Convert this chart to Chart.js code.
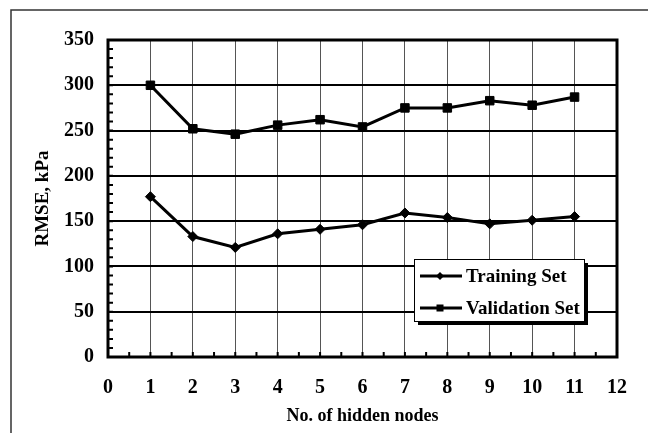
<!DOCTYPE html>
<html>
<head>
<meta charset="utf-8">
<script src="https://cdn.jsdelivr.net/npm/chart.js@4.4.0/dist/chart.umd.min.js"></script>
<style>
  html, body { margin: 0; padding: 0; background: #fff; }
  #wrap { width: 648px; height: 433px; }
</style>
</head>
<body>
<div id="wrap"><canvas id="rmseChart" width="648" height="433"></canvas></div>
<script>
// values (kPa)
const hiddenNodes = [1, 2, 3, 4, 5, 6, 7, 8, 9, 10, 11];
const trainingRmse = [177, 133, 121, 136, 141, 146, 159, 154, 147, 151, 155];
const validationRmse = [300, 252, 246, 256, 262, 254, 275, 275, 283, 278, 287];

const xMin = 0, xMax = 12, xStep = 1, xMinorStep = 0.5;
const yMin = 0, yMax = 350, yStep = 50, yMinorStep = 10;

const serif = "'Liberation Serif', 'Times New Roman', serif";

function toPoints(ys) {
    return hiddenNodes.map((n, i) => ({ x: n, y: ys[i] }));
}

// page frame (left + top edge of the original figure box)
const pageFrame = {
    id: 'pageFrame',
    beforeDraw(chart) {
        const ctx = chart.ctx;
        ctx.save();
        ctx.fillStyle = '#fff';
        ctx.fillRect(0, 0, chart.width, chart.height);
        ctx.strokeStyle = '#333';
        ctx.lineWidth = 1.5;
        ctx.beginPath();
        ctx.moveTo(11, chart.height);
        ctx.lineTo(11, 10);
        ctx.lineTo(chart.width, 10);
        ctx.stroke();
        ctx.restore();
    }
};

// thick plot border + inward minor ticks
const plotFrame = {
    id: 'plotFrame',
    afterDatasetsDraw(chart) {
        const { ctx, chartArea: a, scales: { x, y } } = chart;
        ctx.save();
        ctx.strokeStyle = '#000';
        ctx.lineWidth = 2;
        ctx.beginPath();
        for (let v = yMin + yMinorStep; v < yMax; v += yMinorStep) {
            const py = y.getPixelForValue(v);
            ctx.moveTo(a.left, py);
            ctx.lineTo(a.left + 5, py);
        }
        for (let v = xMin + xMinorStep; v < xMax; v += xMinorStep) {
            const px = x.getPixelForValue(v);
            ctx.moveTo(px, a.bottom);
            ctx.lineTo(px, a.bottom - 5);
        }
        ctx.stroke();
        ctx.lineWidth = 3;
        ctx.strokeRect(a.left, a.top, a.right - a.left, a.bottom - a.top);
        ctx.restore();
    }
};

function drawMarker(ctx, style, cx, cy, r) {
    ctx.beginPath();
    if (style === 'rectRot') {
        ctx.moveTo(cx, cy - r);
        ctx.lineTo(cx + r, cy);
        ctx.lineTo(cx, cy + r);
        ctx.lineTo(cx - r, cy);
    } else {
        ctx.rect(cx - r, cy - r, 2 * r, 2 * r);
    }
    ctx.closePath();
    ctx.fill();
}

// boxed legend with drop shadow inside the plot
const boxLegend = {
    id: 'boxLegend',
    afterDraw(chart) {
        const { ctx, chartArea: a } = chart;
        const w = 170, h = 62;
        const left = a.right - 203, top = a.top + 219;
        ctx.save();
        ctx.fillStyle = '#000';
        ctx.fillRect(left + 4, top + 4, w, h);
        ctx.fillStyle = '#fff';
        ctx.fillRect(left, top, w, h);
        ctx.strokeStyle = '#000';
        ctx.lineWidth = 1;
        ctx.strokeRect(left + 0.5, top + 0.5, w, h);

        ctx.font = 'bold 19px ' + serif;
        ctx.textBaseline = 'middle';
        ctx.textAlign = 'left';
        chart.data.datasets.forEach((ds, i) => {
            const ry = top + 17 + i * 32;
            ctx.strokeStyle = '#000';
            ctx.lineWidth = 3;
            ctx.beginPath();
            ctx.moveTo(left + 6, ry);
            ctx.lineTo(left + 48, ry);
            ctx.stroke();
            ctx.fillStyle = '#000';
            drawMarker(ctx, ds.pointStyle, left + 26, ry, ds.pointStyle === 'rect' ? 3.5 : 4);
            ctx.fillText(ds.label, left + 52, ry + 1);
        });
        ctx.restore();
    }
};

new Chart(document.getElementById('rmseChart'), {
    type: 'line',
    data: {
        datasets: [
            {
                label: 'Training Set',
                data: toPoints(trainingRmse),
                borderColor: '#000',
                backgroundColor: '#000',
                borderWidth: 3,
                pointStyle: 'rectRot',
                pointRadius: 5,
                pointBorderWidth: 1,
                tension: 0
            },
            {
                label: 'Validation Set',
                data: toPoints(validationRmse),
                borderColor: '#000',
                backgroundColor: '#000',
                borderWidth: 3,
                pointStyle: 'rect',
                pointRadius: 6,
                pointBorderWidth: 1,
                tension: 0
            }
        ]
    },
    options: {
        responsive: false,
        devicePixelRatio: 1,
        animation: false,
        layout: { padding: { top: 40, right: 31, left: 0, bottom: 0 } },
        plugins: {
            legend: { display: false },
            tooltip: { enabled: false }
        },
        scales: {
            x: {
                type: 'linear',
                min: xMin,
                max: xMax,
                afterFit(scale) { scale.height = 76; },
                ticks: {
                    stepSize: xStep,
                    padding: 19,
                    color: '#000',
                    font: { family: serif, size: 20, weight: 'bold' }
                },
                grid: { color: '#555', lineWidth: 1, drawTicks: false },
                border: { display: false },
                title: {
                    display: true,
                    text: 'No. of hidden nodes',
                    color: '#000',
                    font: { family: serif, size: 18, weight: 'bold' },
                    padding: { top: 0, bottom: 6 }
                }
            },
            y: {
                min: yMin,
                max: yMax,
                afterFit(scale) { scale.width = 108; },
                ticks: {
                    stepSize: yStep,
                    padding: 14,
                    color: '#000',
                    font: { family: serif, size: 20, weight: 'bold' }
                },
                grid: { color: '#000', lineWidth: 2, drawTicks: false },
                border: { display: false },
                title: {
                    display: true,
                    text: 'RMSE, kPa',
                    color: '#000',
                    font: { family: serif, size: 19, weight: 'bold' },
                    padding: { top: 32, bottom: 0 }
                }
            }
        }
    },
    plugins: [pageFrame, plotFrame, boxLegend]
});
</script>
</body>
</html>
